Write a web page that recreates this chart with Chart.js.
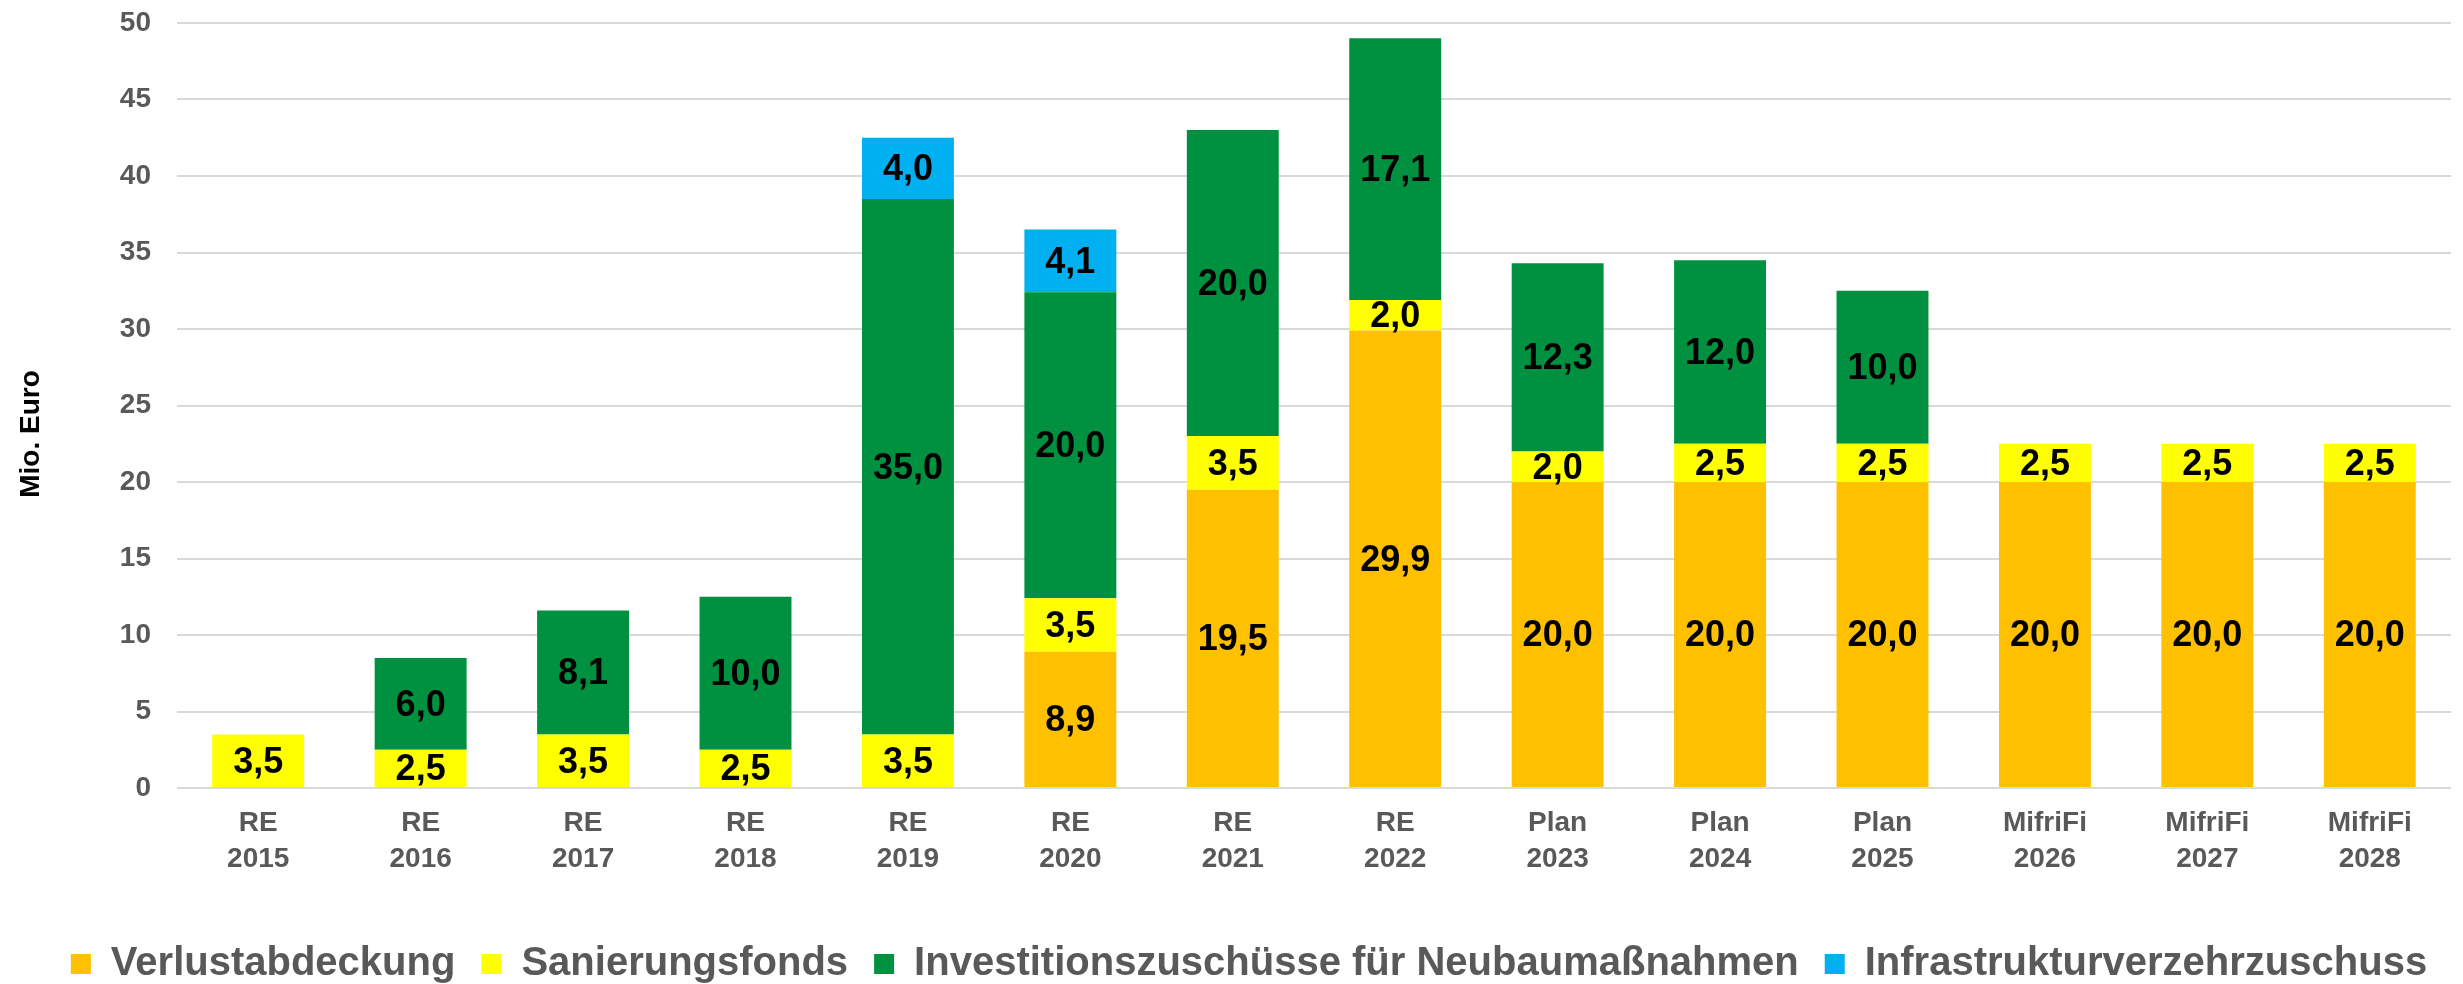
<!DOCTYPE html>
<html lang="de">
<head>
<meta charset="utf-8">
<title>Zuschüsse</title>
<script src="https://cdn.jsdelivr.net/npm/chart.js@4.4.0/dist/chart.umd.min.js"></script>
<style>
    html, body { margin: 0; padding: 0; background: #fff; }
    #wrap { width: 2463px; height: 984px; }
</style>
</head>
<body>
<div id="wrap"><canvas id="chart" width="2463" height="984"></canvas></div>
<script>
// Kategorien (zweizeilige Achsenbeschriftung)
const kinds = ['RE', 'RE', 'RE', 'RE', 'RE', 'RE', 'RE', 'RE', 'Plan', 'Plan', 'Plan', 'MifriFi', 'MifriFi', 'MifriFi'];
const years = ['2015', '2016', '2017', '2018', '2019', '2020', '2021', '2022', '2023', '2024', '2025', '2026', '2027', '2028'];

// Werte in Mio. Euro (null = kein Anteil)
const verlustabdeckung = [null, null, null, null, null, 8.9, 19.5, 29.9, 20.0, 20.0, 20.0, 20.0, 20.0, 20.0];
const sanierungsfonds = [3.5, 2.5, 3.5, 2.5, 3.5, 3.5, 3.5, 2.0, 2.0, 2.5, 2.5, 2.5, 2.5, 2.5];
const investitionen = [null, 6.0, 8.1, 10.0, 35.0, 20.0, 20.0, 17.1, 12.3, 12.0, 10.0, null, null, null];
const infrastruktur = [null, null, null, null, 4.0, 4.1, null, null, null, null, null, null, null, null];

const yTicks = [0, 5, 10, 15, 20, 25, 30, 35, 40, 45, 50];
const yTitle = 'Mio. Euro';

const FONT = "'Liberation Sans', Arial, sans-serif";

// Werte mittig in die Segmente schreiben
const segmentLabels = {
    id: 'segmentLabels',
    afterDatasetsDraw(chart) {
        const ctx = chart.ctx;
        ctx.save();
        ctx.font = 'bold 36px ' + FONT;
        ctx.fillStyle = '#000';
        ctx.textAlign = 'center';
        ctx.textBaseline = 'middle';
        chart.data.datasets.forEach((ds, i) => {
            const meta = chart.getDatasetMeta(i);
            meta.data.forEach((bar, j) => {
                const v = ds.data[j];
                if (v === null || v === 0) return;
                const y = (bar.y + bar.base) / 2;
                ctx.fillText(v.toFixed(1).replace('.', ','), bar.x, y + 2);
            });
        });
        ctx.restore();
    }
};

// Achsentitel links, etwas unterhalb der Mitte wie im Original
const axisTitle = {
    id: 'axisTitle',
    afterDraw(chart) {
        const ctx = chart.ctx;
        ctx.save();
        ctx.translate(31, 434);
        ctx.rotate(-Math.PI / 2);
        ctx.font = 'bold 28px ' + FONT;
        ctx.fillStyle = '#000';
        ctx.textAlign = 'center';
        ctx.textBaseline = 'middle';
        ctx.fillText(yTitle, 0, 0);
        ctx.restore();
    }
};

// Legende etwas nach rechts schieben (wie im Original)
const legendShift = {
    id: 'legendShift',
    afterLayout(chart) {
        if (chart.legend) {
            chart.legend.left += 10;
            chart.legend.right += 10;
        }
    }
};

const ctx = document.getElementById('chart').getContext('2d');
new Chart(ctx, {
    type: 'bar',
    data: {
        labels: kinds.map((k, i) => [k, years[i]]),
        datasets: [
            { label: 'Verlustabdeckung', data: verlustabdeckung, backgroundColor: '#FFC000' },
            { label: 'Sanierungsfonds', data: sanierungsfonds, backgroundColor: '#FFFF00' },
            { label: 'Investitionszuschüsse für Neubaumaßnahmen', data: investitionen, backgroundColor: '#009140' },
            { label: 'Infrastrukturverzehrzuschuss', data: infrastruktur, backgroundColor: '#00B0F0' }
        ]
    },
    options: {
        responsive: false,
        animation: false,
        devicePixelRatio: 1,
        layout: { padding: { top: 23, right: 0, left: 15, bottom: -10 } },
        datasets: {
            bar: { categoryPercentage: 1, barPercentage: 0.566, borderWidth: 0 }
        },
        plugins: {
            legend: {
                position: 'bottom',
                labels: {
                    color: '#595959',
                    font: { family: FONT, size: 40, weight: 'bold' },
                    boxWidth: 20,
                    boxHeight: 20,
                    padding: 26
                }
            },
            tooltip: { enabled: false }
        },
        scales: {
            x: {
                stacked: true,
                grid: { display: false },
                border: { display: false },
                afterFit: scale => { scale.height = 130; },
                ticks: {
                    color: '#595959',
                    font: { family: FONT, size: 28, weight: 'bold', lineHeight: 1.3 },
                    padding: 9,
                    maxRotation: 0
                }
            },
            y: {
                stacked: true,
                min: 0,
                max: 50,
                afterBuildTicks: scale => { scale.ticks = yTicks.map(v => ({ value: v })); },
                afterFit: scale => {
                    scale.width = 162;
                    scale.paddingTop = 0;
                    scale.paddingBottom = 0;
                },
                grid: { color: '#D9D9D9', lineWidth: 2, drawTicks: false },
                border: { display: false },
                ticks: {
                    color: '#595959',
                    font: { family: FONT, size: 28, weight: 'bold' },
                    padding: 26
                }
            },
            // schmaler Rand rechts neben der Zeichenfläche
            yRight: {
                position: 'right',
                display: true,
                grid: { display: false },
                border: { display: false },
                ticks: { display: false },
                afterFit: scale => {
                    scale.width = 12;
                    scale.paddingTop = 0;
                    scale.paddingBottom = 0;
                }
            }
        }
    },
    plugins: [segmentLabels, axisTitle, legendShift]
});
</script>
</body>
</html>
